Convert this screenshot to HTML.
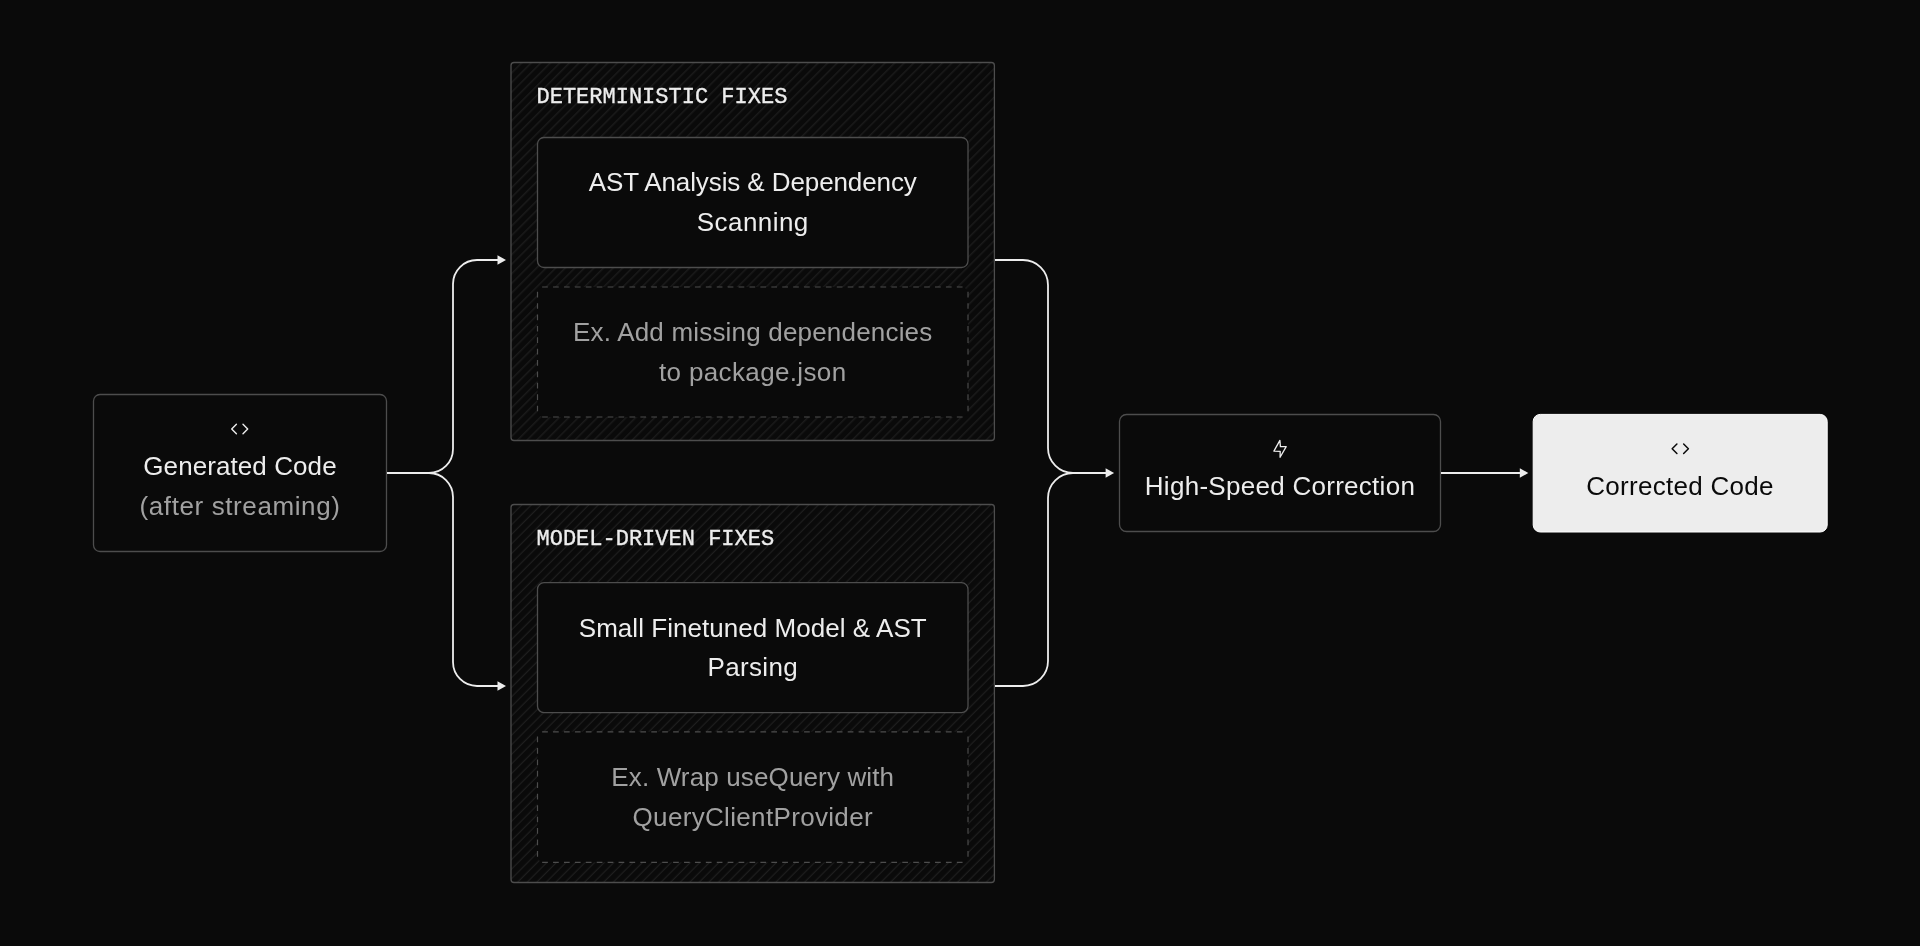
<!DOCTYPE html>
<html>
<head>
<meta charset="utf-8">
<style>
html,body{margin:0;padding:0;background:#0a0a0a;width:1920px;height:946px;overflow:hidden;}
svg{position:absolute;left:0;top:0;display:block;will-change:transform;}
.s{font-family:"Liberation Sans",sans-serif;font-size:26px;}
.m{font-family:"Liberation Mono",monospace;font-size:22px;}
</style>
</head>
<body>
<svg width="1920" height="946" viewBox="0 0 1920 946">
<defs>
<pattern id="hatch1" patternUnits="userSpaceOnUse" width="6.7635" height="6.7635" patternTransform="rotate(45)">
<rect x="0.18" y="0" width="1.2" height="6.7635" fill="#1e1e1e"/>
</pattern>
<pattern id="hatch2" patternUnits="userSpaceOnUse" width="6.7635" height="6.7635" patternTransform="rotate(45)">
<rect x="1.73" y="0" width="1.2" height="6.7635" fill="#1e1e1e"/>
</pattern>
</defs>
<rect x="0" y="0" width="1920" height="946" fill="#0a0a0a"/>

<!-- Generated Code -->
<rect x="93.5" y="394.5" width="293" height="157" rx="6.5" fill="#0a0a0a" stroke="#4d4d4d" stroke-width="1.3"/>
<g fill="none" stroke="#ededed" stroke-width="1.4" stroke-linecap="round" stroke-linejoin="round">
<path d="M236.4 424.25 L231.7 429 L236.4 433.75"/>
<path d="M243 424.25 L247.7 429 L243 433.75"/>
</g>
<text letter-spacing="0.08" class="s" x="240" y="475.4" text-anchor="middle" fill="#ededed">Generated Code</text>
<text letter-spacing="0.6" class="s" x="240" y="514.9" text-anchor="middle" fill="#a1a1a1">(after streaming)</text>

<!-- Group 1 -->
<rect x="511" y="62.5" width="483.4" height="378" rx="3" fill="#0a0a0a"/>
<rect x="511" y="62.5" width="483.4" height="378" rx="3" fill="url(#hatch1)"/>
<rect x="511" y="62.5" width="483.4" height="378" rx="3" fill="none" stroke="#4d4d4d" stroke-width="1.3"/>
<text class="m" x="536.5" stroke="#ededed" stroke-width="0.35" y="103.2" fill="#ededed">DETERMINISTIC FIXES</text>
<rect x="537.5" y="137.5" width="430.5" height="130" rx="6.5" fill="#0a0a0a" stroke="#4d4d4d" stroke-width="1.3"/>
<text letter-spacing="-0.1" class="s" x="752.75" y="191.25" text-anchor="middle" fill="#ededed">AST Analysis &amp; Dependency</text>
<text letter-spacing="0.43" class="s" x="752.75" y="231" text-anchor="middle" fill="#ededed">Scanning</text>
<rect x="537.5" y="287" width="430.50" height="130.00" rx="6.5" fill="#0a0a0a"/>
<g stroke="#4d4d4d" stroke-width="1.15" fill="none"><path d="M542.15 287 H962.55 M542.15 417 H962.55" stroke-dasharray="5.7 5.213"/><path d="M537.5 291.75 V411.35 M968 291.75 V411.35" stroke-dasharray="5.7 5.690"/></g>
<text letter-spacing="0.19" class="s" x="752.75" y="341.25" text-anchor="middle" fill="#a1a1a1">Ex. Add missing dependencies</text>
<text letter-spacing="0.36" class="s" x="752.75" y="380.8" text-anchor="middle" fill="#a1a1a1">to package.json</text>

<!-- Group 2 -->
<rect x="511" y="504.5" width="483.4" height="378" rx="3" fill="#0a0a0a"/>
<rect x="511" y="504.5" width="483.4" height="378" rx="3" fill="url(#hatch2)"/>
<rect x="511" y="504.5" width="483.4" height="378" rx="3" fill="none" stroke="#4d4d4d" stroke-width="1.3"/>
<text class="m" x="536.5" stroke="#ededed" stroke-width="0.35" y="545.3" fill="#ededed">MODEL-DRIVEN FIXES</text>
<rect x="537.5" y="582.7" width="430.5" height="130" rx="6.5" fill="#0a0a0a" stroke="#4d4d4d" stroke-width="1.3"/>
<text letter-spacing="0.04" class="s" x="752.75" y="636.6" text-anchor="middle" fill="#ededed">Small Finetuned Model &amp; AST</text>
<text letter-spacing="0.33" class="s" x="752.75" y="676.1" text-anchor="middle" fill="#ededed">Parsing</text>
<rect x="537.5" y="731.8" width="430.50" height="130.50" rx="6.5" fill="#0a0a0a"/>
<g stroke="#4d4d4d" stroke-width="1.15" fill="none"><path d="M542.15 731.8 H962.55 M542.15 862.3 H962.55" stroke-dasharray="5.7 5.213"/><path d="M537.5 736.55 V856.65 M968 736.55 V856.65" stroke-dasharray="5.7 5.740"/></g>
<text letter-spacing="0.14" class="s" x="752.75" y="786.25" text-anchor="middle" fill="#a1a1a1">Ex. Wrap useQuery with</text>
<text letter-spacing="0.33" class="s" x="752.75" y="826.1" text-anchor="middle" fill="#a1a1a1">QueryClientProvider</text>

<!-- High-Speed Correction -->
<rect x="1119.5" y="414.5" width="321" height="117" rx="7" fill="#0a0a0a" stroke="#4d4d4d" stroke-width="1.3"/>
<path d="M1279.9 440.4 L1273.9 451.1 L1280.2 451.3 L1280.1 457.3 L1286.2 446.6 L1280.4 446.6 Z" fill="none" stroke="#ededed" stroke-width="1.3" stroke-linejoin="round"/>
<text letter-spacing="0.28" class="s" x="1280" y="494.9" text-anchor="middle" fill="#ededed">High-Speed Correction</text>

<!-- Corrected Code -->
<rect x="1533.2" y="414.4" width="294" height="117.6" rx="7" fill="#ededed" stroke="#ffffff" stroke-width="1"/>
<g fill="none" stroke="#0a0a0a" stroke-width="1.5" stroke-linecap="round" stroke-linejoin="round">
<path d="M1676.9 443.95 L1672.15 448.7 L1676.9 453.45"/>
<path d="M1683.65 443.95 L1688.4 448.7 L1683.65 453.45"/>
</g>
<text letter-spacing="0.3" class="s" x="1680" y="494.9" text-anchor="middle" fill="#0a0a0a">Corrected Code</text>

<!-- connectors -->
<g fill="none" stroke="#ededed" stroke-width="1.8">
<path d="M387 473 H429 A24 24 0 0 0 453 449 V284 A24 24 0 0 1 477 260 H499"/>
<path d="M429 473 A24 24 0 0 1 453 497 V662 A24 24 0 0 0 477 686 H499"/>
<path d="M995 260 H1023 A25 25 0 0 1 1048 285 V448 A25 25 0 0 0 1073 473 H1107"/>
<path d="M995 686 H1023 A25 25 0 0 0 1048 661 V498 A25 25 0 0 1 1073 473"/>
<path d="M1441 473 H1521"/>
</g>
<g fill="#ededed">
<path d="M497.5 255.2 L506 260 L497.5 264.8 Z"/>
<path d="M497.5 681.2 L506 686 L497.5 690.8 Z"/>
<path d="M1105.6 468.2 L1114.1 473 L1105.6 477.8 Z"/>
<path d="M1519.8 468.2 L1528.3 473 L1519.8 477.8 Z"/>
</g>
</svg>
</body>
</html>
